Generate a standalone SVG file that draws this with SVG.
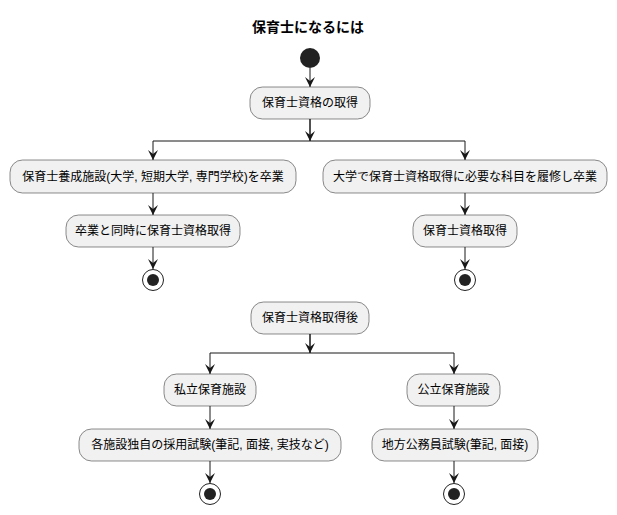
<svg xmlns="http://www.w3.org/2000/svg" width="617" height="515" viewBox="0 0 617 515">
<defs>
<marker id="a" viewBox="0 0 10 10" refX="10" refY="5" markerWidth="10" markerHeight="10" markerUnits="userSpaceOnUse" orient="auto"><path d="M0,0 L10,5 L0,10 L4,5 Z" fill="#181818"/></marker>
<style>
.b{fill:#F1F1F1;stroke:#181818;stroke-width:0.5}
.t{font-family:"Liberation Sans","Noto Sans CJK JP",sans-serif;font-size:12px;fill:#000;text-anchor:middle}
.c{fill:none;stroke:#181818;stroke-width:1}
.e{fill:none;stroke:#222;stroke-width:1}
</style>
</defs>
<rect width="617" height="515" fill="#fff"/>
<text x="308" y="32" class="t" style="font-size:14px;font-weight:bold">保育士になるには</text>
<g id="start"><circle cx="310" cy="58" r="10" fill="#222"/></g>
<g id="n1"><rect class="b" x="250" y="87" width="120" height="32" rx="12.5"/><text class="t" x="310" y="107">保育士資格の取得</text></g>
<g id="n2"><rect class="b" x="10" y="160" width="286" height="33" rx="12.5"/><text class="t" x="153" y="181">保育士養成施設(大学, 短期大学, 専門学校)を卒業</text></g>
<g id="n3"><rect class="b" x="323" y="160" width="284" height="33" rx="12.5"/><text class="t" x="465" y="181">大学で保育士資格取得に必要な科目を履修し卒業</text></g>
<g id="n4"><rect class="b" x="66" y="215" width="174" height="32" rx="12.5"/><text class="t" x="153" y="235">卒業と同時に保育士資格取得</text></g>
<g id="n5"><rect class="b" x="413" y="215" width="104" height="32" rx="12.5"/><text class="t" x="465" y="235">保育士資格取得</text></g>
<g id="end1"><circle class="e" cx="153" cy="280" r="10.5"/><circle cx="153" cy="280" r="6" fill="#222"/></g>
<g id="end2"><circle class="e" cx="465" cy="280" r="10.5"/><circle cx="465" cy="280" r="6" fill="#222"/></g>
<g id="n6"><rect class="b" x="251" y="302" width="118" height="32" rx="12.5"/><text class="t" x="310" y="322">保育士資格取得後</text></g>
<g id="n7"><rect class="b" x="164" y="374" width="92" height="32" rx="12.5"/><text class="t" x="210" y="394">私立保育施設</text></g>
<g id="n8"><rect class="b" x="407" y="374" width="93" height="32" rx="12.5"/><text class="t" x="453.5" y="394">公立保育施設</text></g>
<g id="n9"><rect class="b" x="79" y="429" width="262" height="32" rx="12.5"/><text class="t" x="210" y="449">各施設独自の採用試験(筆記, 面接, 実技など)</text></g>
<g id="n10"><rect class="b" x="372" y="429" width="166" height="32" rx="12.5"/><text class="t" x="455" y="449">地方公務員試験(筆記, 面接)</text></g>
<g id="end3"><circle class="e" cx="210" cy="494" r="10.5"/><circle cx="210" cy="494" r="6" fill="#222"/></g>
<g id="end4"><circle class="e" cx="454" cy="494" r="10.5"/><circle cx="454" cy="494" r="6" fill="#222"/></g>
<g id="connectors">
<path class="c" d="M310,68 V87" marker-end="url(#a)"/>
<path class="c" d="M310,119 V141 M153,141 H465"/>
<path class="c" d="M310,119 V141" marker-end="url(#a)"/>
<path class="c" d="M153,141 V160" marker-end="url(#a)"/>
<path class="c" d="M465,141 V160" marker-end="url(#a)"/>
<path class="c" d="M153,193 V215" marker-end="url(#a)"/>
<path class="c" d="M465,193 V215" marker-end="url(#a)"/>
<path class="c" d="M153,247 V269" marker-end="url(#a)"/>
<path class="c" d="M465,247 V269" marker-end="url(#a)"/>
<path class="c" d="M310,334 V353 M210,353 H454"/>
<path class="c" d="M310,334 V353" marker-end="url(#a)"/>
<path class="c" d="M210,353 V374" marker-end="url(#a)"/>
<path class="c" d="M454,353 V374" marker-end="url(#a)"/>
<path class="c" d="M210,406 V429" marker-end="url(#a)"/>
<path class="c" d="M454,406 V429" marker-end="url(#a)"/>
<path class="c" d="M210,461 V483" marker-end="url(#a)"/>
<path class="c" d="M454,461 V483" marker-end="url(#a)"/>
</g>
</svg>
